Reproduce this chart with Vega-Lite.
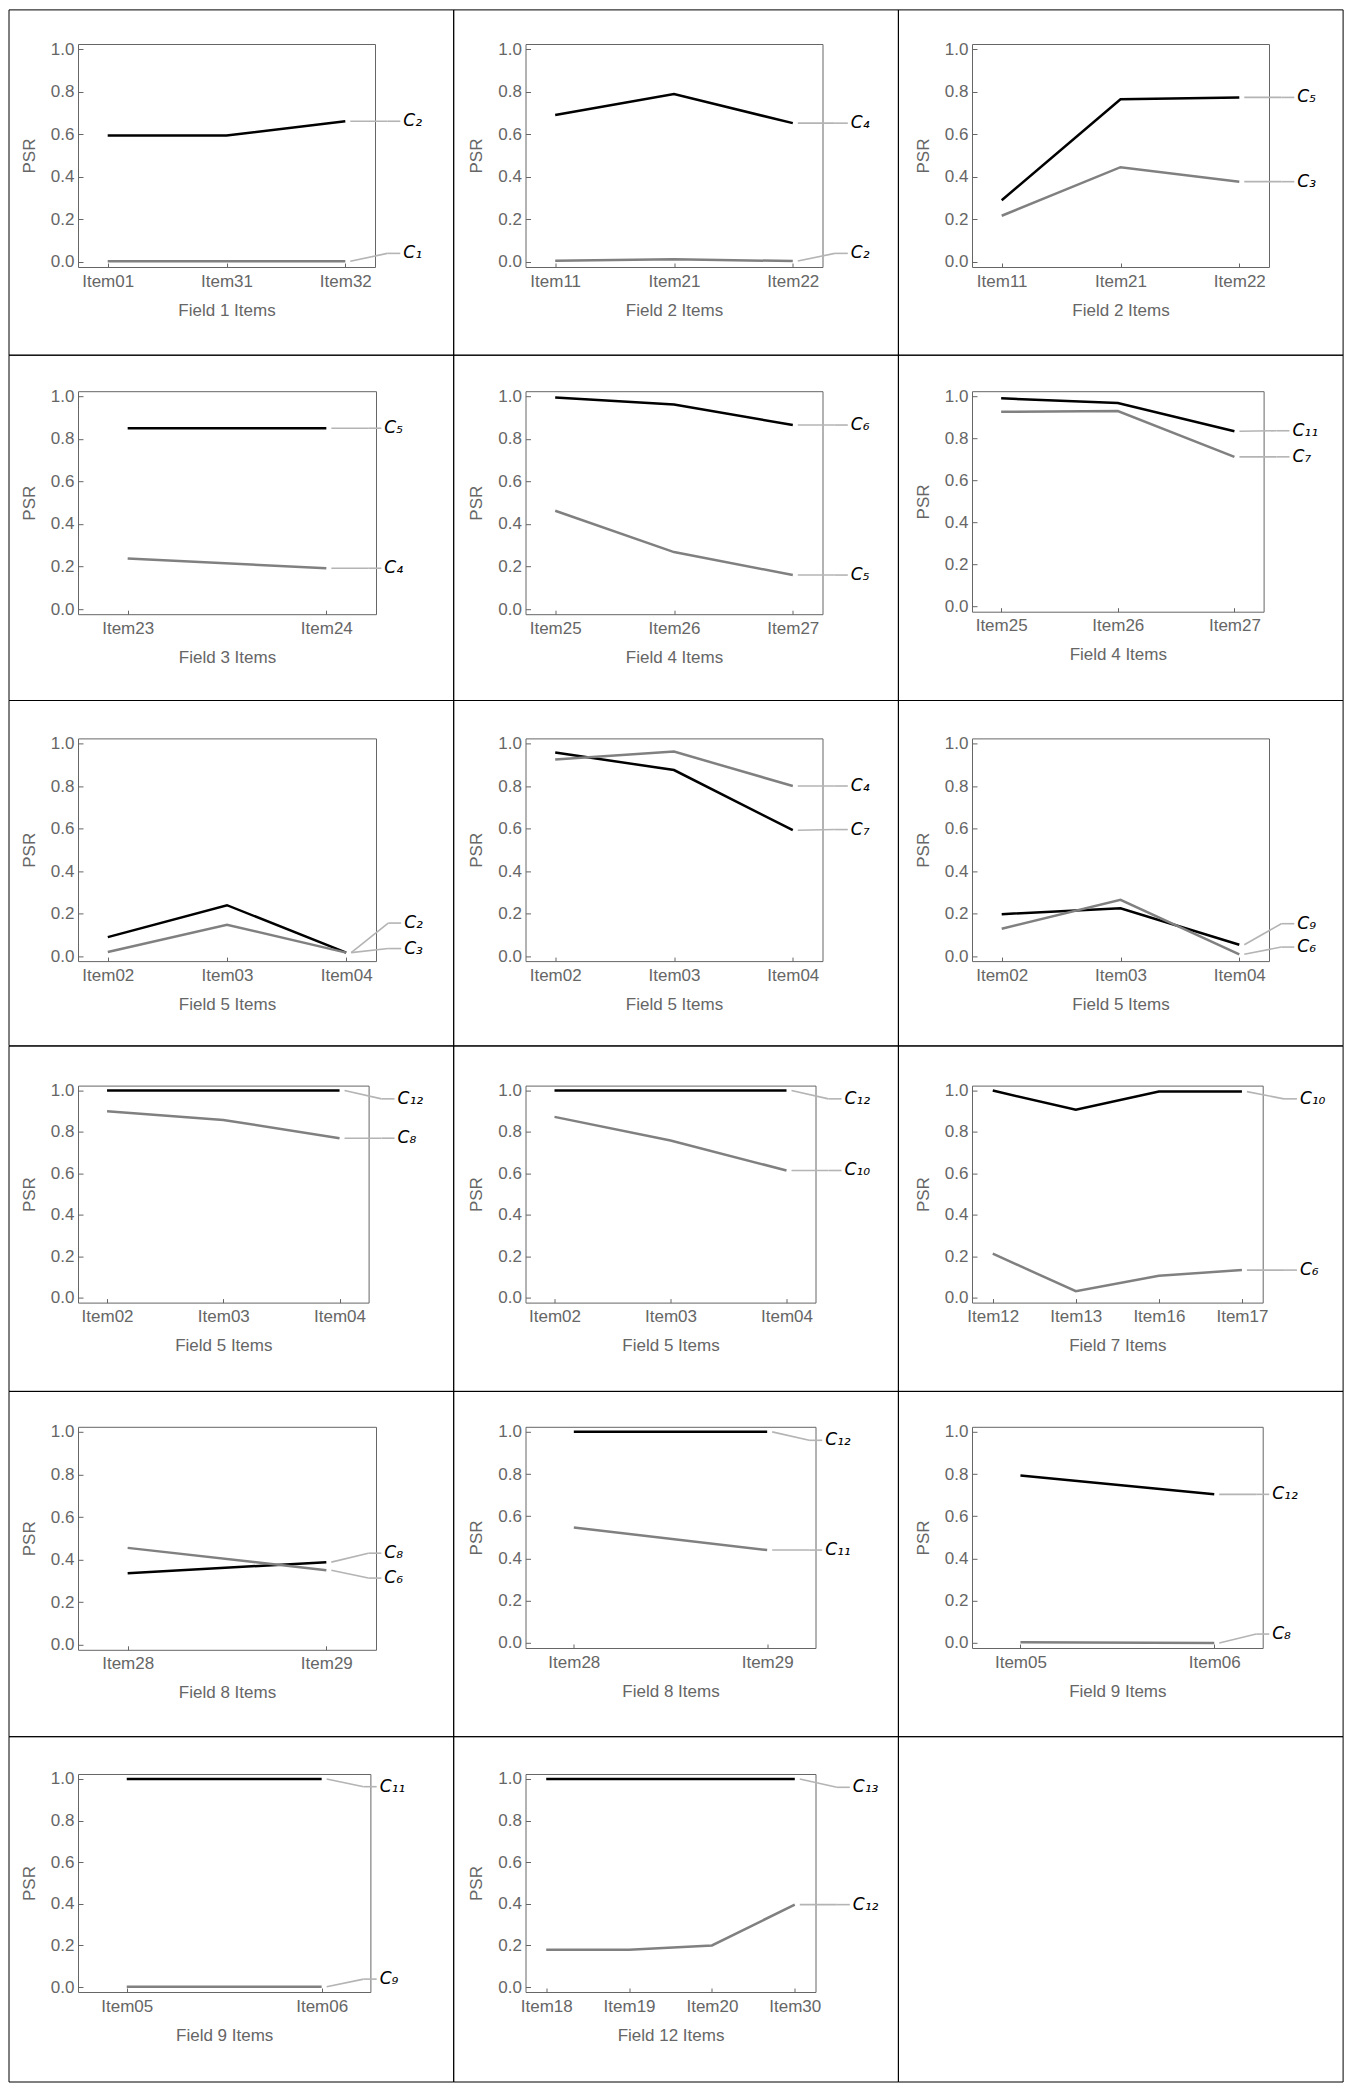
{
"$schema":"https://vega.github.io/schema/vega-lite/v6.json",
"background":"white",
"padding":{"left":8,"top":8,"right":0,"bottom":0},
"columns":3,
"bounds":"flush",
"align":"each",
"spacing":{"row":124.2,"column":149.5},
"concat":[
{"width":297,"height":223,"resolve":{"scale":{"x":"independent","y":"independent"}},
"layer":[
{"data":{"values":[{"cell":"r1c1"}]},"mark":{"type":"rect","filled":false,"color":"black","strokeWidth":1},
"encoding":{"x":{"datum":-69,"type":"quantitative","scale":{"domain":[0,297],"nice":false,"zero":false},"axis":null},"x2":{"datum":375.7},
"y":{"datum":257.1,"type":"quantitative","scale":{"domain":[0,223],"nice":false,"zero":false},"axis":null},"y2":{"datum":-88.2}}},
{"data":{"values":[
{"item":"Item01","role":"higher","psr":0.594},{"item":"Item31","role":"higher","psr":0.594},{"item":"Item32","role":"higher","psr":0.661},
{"item":"Item01","role":"lower","psr":0.003},{"item":"Item31","role":"lower","psr":0.003},{"item":"Item32","role":"lower","psr":0.003}]},
"layer":[
{"mark":{"type":"line","strokeWidth":2.5},"encoding":{
"x":{"field":"item","type":"ordinal","scale":{"type":"point","padding":0.25},"axis":{"title":"Field 1 Items"}},
"y":{"field":"psr","type":"quantitative","scale":{"domain":[-0.024,1.024],"nice":false,"zero":false},"axis":{"title":"PSR","values":[0,0.05,0.1,0.15,0.2,0.25,0.3,0.35,0.4,0.45,0.5,0.55,0.6,0.65,0.7,0.75,0.8,0.85,0.9,0.95,1],"labelExpr":"round(datum.value*100) % 20 == 0 ? format(datum.value, '.1f') : ''","tickSize":{"condition":{"test":"round(datum.value*100) % 20 == 0","value":-5},"value":-2.5}}},
"color":{"field":"role","type":"nominal","scale":{"domain":["higher","lower"],"range":["black","#808080"]},"legend":null}}},
{"data":{"values":[{"item":"Item32","label":"C₂","psr":0.661,"labelY":0.661},{"item":"Item32","label":"C₁","psr":0.003,"labelY":0.04}]},
"layer":[
{"mark":{"type":"rule","color":"#b4b4b4","strokeWidth":1.6,"xOffset":5,"x2Offset":42},"encoding":{"x":{"field":"item","type":"ordinal"},"x2":{"field":"item"},"y":{"field":"psr","type":"quantitative"},"y2":{"field":"labelY"}}},
{"mark":{"type":"rule","color":"#b4b4b4","strokeWidth":1.6,"xOffset":42,"x2Offset":55},"encoding":{"x":{"field":"item","type":"ordinal"},"x2":{"field":"item"},"y":{"field":"labelY","type":"quantitative"}}},
{"mark":{"type":"text","align":"left","baseline":"middle","xOffset":58,"font":"DejaVu Sans","fontSize":17,"fontStyle":"italic","color":"black"},"encoding":{"x":{"field":"item","type":"ordinal"},"y":{"field":"labelY","type":"quantitative"},"text":{"field":"label"}}}
]}
]}
]},
{"width":297,"height":223,"resolve":{"scale":{"x":"independent","y":"independent"}},
"layer":[
{"data":{"values":[{"cell":"r1c2"}]},"mark":{"type":"rect","filled":false,"color":"black","strokeWidth":1},
"encoding":{"x":{"datum":-71.8,"type":"quantitative","scale":{"domain":[0,297],"nice":false,"zero":false},"axis":null},"x2":{"datum":372.9},
"y":{"datum":257.1,"type":"quantitative","scale":{"domain":[0,223],"nice":false,"zero":false},"axis":null},"y2":{"datum":-88.2}}},
{"data":{"values":[
{"item":"Item11","role":"higher","psr":0.69},{"item":"Item21","role":"higher","psr":0.789},{"item":"Item22","role":"higher","psr":0.652},
{"item":"Item11","role":"lower","psr":0.005},{"item":"Item21","role":"lower","psr":0.012},{"item":"Item22","role":"lower","psr":0.004}]},
"layer":[
{"mark":{"type":"line","strokeWidth":2.5},"encoding":{
"x":{"field":"item","type":"ordinal","scale":{"type":"point","padding":0.25},"axis":{"title":"Field 2 Items"}},
"y":{"field":"psr","type":"quantitative","scale":{"domain":[-0.024,1.024],"nice":false,"zero":false},"axis":{"title":"PSR","values":[0,0.05,0.1,0.15,0.2,0.25,0.3,0.35,0.4,0.45,0.5,0.55,0.6,0.65,0.7,0.75,0.8,0.85,0.9,0.95,1],"labelExpr":"round(datum.value*100) % 20 == 0 ? format(datum.value, '.1f') : ''","tickSize":{"condition":{"test":"round(datum.value*100) % 20 == 0","value":-5},"value":-2.5}}},
"color":{"field":"role","type":"nominal","scale":{"domain":["higher","lower"],"range":["black","#808080"]},"legend":null}}},
{"data":{"values":[{"item":"Item22","label":"C₄","psr":0.652,"labelY":0.652},{"item":"Item22","label":"C₂","psr":0.004,"labelY":0.04}]},
"layer":[
{"mark":{"type":"rule","color":"#b4b4b4","strokeWidth":1.6,"xOffset":5,"x2Offset":42},"encoding":{"x":{"field":"item","type":"ordinal"},"x2":{"field":"item"},"y":{"field":"psr","type":"quantitative"},"y2":{"field":"labelY"}}},
{"mark":{"type":"rule","color":"#b4b4b4","strokeWidth":1.6,"xOffset":42,"x2Offset":55},"encoding":{"x":{"field":"item","type":"ordinal"},"x2":{"field":"item"},"y":{"field":"labelY","type":"quantitative"}}},
{"mark":{"type":"text","align":"left","baseline":"middle","xOffset":58,"font":"DejaVu Sans","fontSize":17,"fontStyle":"italic","color":"black"},"encoding":{"x":{"field":"item","type":"ordinal"},"y":{"field":"labelY","type":"quantitative"},"text":{"field":"label"}}}
]}
]}
]},
{"width":297,"height":223,"resolve":{"scale":{"x":"independent","y":"independent"}},
"layer":[
{"data":{"values":[{"cell":"r1c3"}]},"mark":{"type":"rect","filled":false,"color":"black","strokeWidth":1},
"encoding":{"x":{"datum":-73.6,"type":"quantitative","scale":{"domain":[0,297],"nice":false,"zero":false},"axis":null},"x2":{"datum":371.1},
"y":{"datum":257.1,"type":"quantitative","scale":{"domain":[0,223],"nice":false,"zero":false},"axis":null},"y2":{"datum":-88.2}}},
{"data":{"values":[
{"item":"Item11","role":"higher","psr":0.29},{"item":"Item21","role":"higher","psr":0.764},{"item":"Item22","role":"higher","psr":0.773},
{"item":"Item11","role":"lower","psr":0.217},{"item":"Item21","role":"lower","psr":0.445},{"item":"Item22","role":"lower","psr":0.377}]},
"layer":[
{"mark":{"type":"line","strokeWidth":2.5},"encoding":{
"x":{"field":"item","type":"ordinal","scale":{"type":"point","padding":0.25},"axis":{"title":"Field 2 Items"}},
"y":{"field":"psr","type":"quantitative","scale":{"domain":[-0.024,1.024],"nice":false,"zero":false},"axis":{"title":"PSR","values":[0,0.05,0.1,0.15,0.2,0.25,0.3,0.35,0.4,0.45,0.5,0.55,0.6,0.65,0.7,0.75,0.8,0.85,0.9,0.95,1],"labelExpr":"round(datum.value*100) % 20 == 0 ? format(datum.value, '.1f') : ''","tickSize":{"condition":{"test":"round(datum.value*100) % 20 == 0","value":-5},"value":-2.5}}},
"color":{"field":"role","type":"nominal","scale":{"domain":["higher","lower"],"range":["black","#808080"]},"legend":null}}},
{"data":{"values":[{"item":"Item22","label":"C₅","psr":0.773,"labelY":0.773},{"item":"Item22","label":"C₃","psr":0.377,"labelY":0.377}]},
"layer":[
{"mark":{"type":"rule","color":"#b4b4b4","strokeWidth":1.6,"xOffset":5,"x2Offset":42},"encoding":{"x":{"field":"item","type":"ordinal"},"x2":{"field":"item"},"y":{"field":"psr","type":"quantitative"},"y2":{"field":"labelY"}}},
{"mark":{"type":"rule","color":"#b4b4b4","strokeWidth":1.6,"xOffset":42,"x2Offset":55},"encoding":{"x":{"field":"item","type":"ordinal"},"x2":{"field":"item"},"y":{"field":"labelY","type":"quantitative"}}},
{"mark":{"type":"text","align":"left","baseline":"middle","xOffset":58,"font":"DejaVu Sans","fontSize":17,"fontStyle":"italic","color":"black"},"encoding":{"x":{"field":"item","type":"ordinal"},"y":{"field":"labelY","type":"quantitative"},"text":{"field":"label"}}}
]}
]}
]},
{"width":298,"height":223,"resolve":{"scale":{"x":"independent","y":"independent"}},
"layer":[
{"data":{"values":[{"cell":"r2c1"}]},"mark":{"type":"rect","filled":false,"color":"black","strokeWidth":1},
"encoding":{"x":{"datum":-69,"type":"quantitative","scale":{"domain":[0,298],"nice":false,"zero":false},"axis":null},"x2":{"datum":375.7},
"y":{"datum":259,"type":"quantitative","scale":{"domain":[0,223],"nice":false,"zero":false},"axis":null},"y2":{"datum":-86.3}}},
{"data":{"values":[
{"item":"Item23","role":"higher","psr":0.85},{"item":"Item24","role":"higher","psr":0.85},
{"item":"Item23","role":"lower","psr":0.238},{"item":"Item24","role":"lower","psr":0.192}]},
"layer":[
{"mark":{"type":"line","strokeWidth":2.5},"encoding":{
"x":{"field":"item","type":"ordinal","scale":{"type":"point","padding":0.25},"axis":{"title":"Field 3 Items"}},
"y":{"field":"psr","type":"quantitative","scale":{"domain":[-0.024,1.024],"nice":false,"zero":false},"axis":{"title":"PSR","values":[0,0.05,0.1,0.15,0.2,0.25,0.3,0.35,0.4,0.45,0.5,0.55,0.6,0.65,0.7,0.75,0.8,0.85,0.9,0.95,1],"labelExpr":"round(datum.value*100) % 20 == 0 ? format(datum.value, '.1f') : ''","tickSize":{"condition":{"test":"round(datum.value*100) % 20 == 0","value":-5},"value":-2.5}}},
"color":{"field":"role","type":"nominal","scale":{"domain":["higher","lower"],"range":["black","#808080"]},"legend":null}}},
{"data":{"values":[{"item":"Item24","label":"C₅","psr":0.85,"labelY":0.85},{"item":"Item24","label":"C₄","psr":0.192,"labelY":0.192}]},
"layer":[
{"mark":{"type":"rule","color":"#b4b4b4","strokeWidth":1.6,"xOffset":5,"x2Offset":42},"encoding":{"x":{"field":"item","type":"ordinal"},"x2":{"field":"item"},"y":{"field":"psr","type":"quantitative"},"y2":{"field":"labelY"}}},
{"mark":{"type":"rule","color":"#b4b4b4","strokeWidth":1.6,"xOffset":42,"x2Offset":55},"encoding":{"x":{"field":"item","type":"ordinal"},"x2":{"field":"item"},"y":{"field":"labelY","type":"quantitative"}}},
{"mark":{"type":"text","align":"left","baseline":"middle","xOffset":58,"font":"DejaVu Sans","fontSize":17,"fontStyle":"italic","color":"black"},"encoding":{"x":{"field":"item","type":"ordinal"},"y":{"field":"labelY","type":"quantitative"},"text":{"field":"label"}}}
]}
]}
]},
{"width":297,"height":223,"resolve":{"scale":{"x":"independent","y":"independent"}},
"layer":[
{"data":{"values":[{"cell":"r2c2"}]},"mark":{"type":"rect","filled":false,"color":"black","strokeWidth":1},
"encoding":{"x":{"datum":-71.8,"type":"quantitative","scale":{"domain":[0,297],"nice":false,"zero":false},"axis":null},"x2":{"datum":372.9},
"y":{"datum":259,"type":"quantitative","scale":{"domain":[0,223],"nice":false,"zero":false},"axis":null},"y2":{"datum":-86.3}}},
{"data":{"values":[
{"item":"Item25","role":"higher","psr":0.994},{"item":"Item26","role":"higher","psr":0.961},{"item":"Item27","role":"higher","psr":0.865},
{"item":"Item25","role":"lower","psr":0.462},{"item":"Item26","role":"lower","psr":0.268},{"item":"Item27","role":"lower","psr":0.16}]},
"layer":[
{"mark":{"type":"line","strokeWidth":2.5},"encoding":{
"x":{"field":"item","type":"ordinal","scale":{"type":"point","padding":0.25},"axis":{"title":"Field 4 Items"}},
"y":{"field":"psr","type":"quantitative","scale":{"domain":[-0.024,1.024],"nice":false,"zero":false},"axis":{"title":"PSR","values":[0,0.05,0.1,0.15,0.2,0.25,0.3,0.35,0.4,0.45,0.5,0.55,0.6,0.65,0.7,0.75,0.8,0.85,0.9,0.95,1],"labelExpr":"round(datum.value*100) % 20 == 0 ? format(datum.value, '.1f') : ''","tickSize":{"condition":{"test":"round(datum.value*100) % 20 == 0","value":-5},"value":-2.5}}},
"color":{"field":"role","type":"nominal","scale":{"domain":["higher","lower"],"range":["black","#808080"]},"legend":null}}},
{"data":{"values":[{"item":"Item27","label":"C₆","psr":0.865,"labelY":0.865},{"item":"Item27","label":"C₅","psr":0.16,"labelY":0.16}]},
"layer":[
{"mark":{"type":"rule","color":"#b4b4b4","strokeWidth":1.6,"xOffset":5,"x2Offset":42},"encoding":{"x":{"field":"item","type":"ordinal"},"x2":{"field":"item"},"y":{"field":"psr","type":"quantitative"},"y2":{"field":"labelY"}}},
{"mark":{"type":"rule","color":"#b4b4b4","strokeWidth":1.6,"xOffset":42,"x2Offset":55},"encoding":{"x":{"field":"item","type":"ordinal"},"x2":{"field":"item"},"y":{"field":"labelY","type":"quantitative"}}},
{"mark":{"type":"text","align":"left","baseline":"middle","xOffset":58,"font":"DejaVu Sans","fontSize":17,"fontStyle":"italic","color":"black"},"encoding":{"x":{"field":"item","type":"ordinal"},"y":{"field":"labelY","type":"quantitative"},"text":{"field":"label"}}}
]}
]}
]},
{"width":291.6,"height":220.5,"resolve":{"scale":{"x":"independent","y":"independent"}},
"layer":[
{"data":{"values":[{"cell":"r2c3"}]},"mark":{"type":"rect","filled":false,"color":"black","strokeWidth":1},
"encoding":{"x":{"datum":-73.6,"type":"quantitative","scale":{"domain":[0,291.6],"nice":false,"zero":false},"axis":null},"x2":{"datum":371.1},
"y":{"datum":256.5,"type":"quantitative","scale":{"domain":[0,220.5],"nice":false,"zero":false},"axis":null},"y2":{"datum":-88.8}}},
{"data":{"values":[
{"item":"Item25","role":"higher","psr":0.99},{"item":"Item26","role":"higher","psr":0.968},{"item":"Item27","role":"higher","psr":0.834},
{"item":"Item25","role":"lower","psr":0.926},{"item":"Item26","role":"lower","psr":0.93},{"item":"Item27","role":"lower","psr":0.712}]},
"layer":[
{"mark":{"type":"line","strokeWidth":2.5},"encoding":{
"x":{"field":"item","type":"ordinal","scale":{"type":"point","padding":0.25},"axis":{"title":"Field 4 Items"}},
"y":{"field":"psr","type":"quantitative","scale":{"domain":[-0.024,1.024],"nice":false,"zero":false},"axis":{"title":"PSR","values":[0,0.05,0.1,0.15,0.2,0.25,0.3,0.35,0.4,0.45,0.5,0.55,0.6,0.65,0.7,0.75,0.8,0.85,0.9,0.95,1],"labelExpr":"round(datum.value*100) % 20 == 0 ? format(datum.value, '.1f') : ''","tickSize":{"condition":{"test":"round(datum.value*100) % 20 == 0","value":-5},"value":-2.5}}},
"color":{"field":"role","type":"nominal","scale":{"domain":["higher","lower"],"range":["black","#808080"]},"legend":null}}},
{"data":{"values":[{"item":"Item27","label":"C₁₁","psr":0.834,"labelY":0.836},{"item":"Item27","label":"C₇","psr":0.712,"labelY":0.712}]},
"layer":[
{"mark":{"type":"rule","color":"#b4b4b4","strokeWidth":1.6,"xOffset":5,"x2Offset":42},"encoding":{"x":{"field":"item","type":"ordinal"},"x2":{"field":"item"},"y":{"field":"psr","type":"quantitative"},"y2":{"field":"labelY"}}},
{"mark":{"type":"rule","color":"#b4b4b4","strokeWidth":1.6,"xOffset":42,"x2Offset":55},"encoding":{"x":{"field":"item","type":"ordinal"},"x2":{"field":"item"},"y":{"field":"labelY","type":"quantitative"}}},
{"mark":{"type":"text","align":"left","baseline":"middle","xOffset":58,"font":"DejaVu Sans","fontSize":17,"fontStyle":"italic","color":"black"},"encoding":{"x":{"field":"item","type":"ordinal"},"y":{"field":"labelY","type":"quantitative"},"text":{"field":"label"}}}
]}
]}
]},
{"width":298,"height":222.7,"resolve":{"scale":{"x":"independent","y":"independent"}},
"layer":[
{"data":{"values":[{"cell":"r3c1"}]},"mark":{"type":"rect","filled":false,"color":"black","strokeWidth":1},
"encoding":{"x":{"datum":-69,"type":"quantitative","scale":{"domain":[0,298],"nice":false,"zero":false},"axis":null},"x2":{"datum":375.7},
"y":{"datum":260.6,"type":"quantitative","scale":{"domain":[0,222.7],"nice":false,"zero":false},"axis":null},"y2":{"datum":-84.7}}},
{"data":{"values":[
{"item":"Item02","role":"higher","psr":0.089},{"item":"Item03","role":"higher","psr":0.239},{"item":"Item04","role":"higher","psr":0.016},
{"item":"Item02","role":"lower","psr":0.019},{"item":"Item03","role":"lower","psr":0.147},{"item":"Item04","role":"lower","psr":0.016}]},
"layer":[
{"mark":{"type":"line","strokeWidth":2.5},"encoding":{
"x":{"field":"item","type":"ordinal","scale":{"type":"point","padding":0.25},"axis":{"title":"Field 5 Items"}},
"y":{"field":"psr","type":"quantitative","scale":{"domain":[-0.024,1.024],"nice":false,"zero":false},"axis":{"title":"PSR","values":[0,0.05,0.1,0.15,0.2,0.25,0.3,0.35,0.4,0.45,0.5,0.55,0.6,0.65,0.7,0.75,0.8,0.85,0.9,0.95,1],"labelExpr":"round(datum.value*100) % 20 == 0 ? format(datum.value, '.1f') : ''","tickSize":{"condition":{"test":"round(datum.value*100) % 20 == 0","value":-5},"value":-2.5}}},
"color":{"field":"role","type":"nominal","scale":{"domain":["higher","lower"],"range":["black","#808080"]},"legend":null}}},
{"data":{"values":[{"item":"Item04","label":"C₂","psr":0.016,"labelY":0.155},{"item":"Item04","label":"C₃","psr":0.016,"labelY":0.035}]},
"layer":[
{"mark":{"type":"rule","color":"#b4b4b4","strokeWidth":1.6,"xOffset":5,"x2Offset":42},"encoding":{"x":{"field":"item","type":"ordinal"},"x2":{"field":"item"},"y":{"field":"psr","type":"quantitative"},"y2":{"field":"labelY"}}},
{"mark":{"type":"rule","color":"#b4b4b4","strokeWidth":1.6,"xOffset":42,"x2Offset":55},"encoding":{"x":{"field":"item","type":"ordinal"},"x2":{"field":"item"},"y":{"field":"labelY","type":"quantitative"}}},
{"mark":{"type":"text","align":"left","baseline":"middle","xOffset":58,"font":"DejaVu Sans","fontSize":17,"fontStyle":"italic","color":"black"},"encoding":{"x":{"field":"item","type":"ordinal"},"y":{"field":"labelY","type":"quantitative"},"text":{"field":"label"}}}
]}
]}
]},
{"width":297,"height":222.7,"resolve":{"scale":{"x":"independent","y":"independent"}},
"layer":[
{"data":{"values":[{"cell":"r3c2"}]},"mark":{"type":"rect","filled":false,"color":"black","strokeWidth":1},
"encoding":{"x":{"datum":-71.8,"type":"quantitative","scale":{"domain":[0,297],"nice":false,"zero":false},"axis":null},"x2":{"datum":372.9},
"y":{"datum":260.6,"type":"quantitative","scale":{"domain":[0,222.7],"nice":false,"zero":false},"axis":null},"y2":{"datum":-84.7}}},
{"data":{"values":[
{"item":"Item02","role":"higher","psr":0.958},{"item":"Item03","role":"higher","psr":0.875},{"item":"Item04","role":"higher","psr":0.592},
{"item":"Item02","role":"lower","psr":0.925},{"item":"Item03","role":"lower","psr":0.962},{"item":"Item04","role":"lower","psr":0.8}]},
"layer":[
{"mark":{"type":"line","strokeWidth":2.5},"encoding":{
"x":{"field":"item","type":"ordinal","scale":{"type":"point","padding":0.25},"axis":{"title":"Field 5 Items"}},
"y":{"field":"psr","type":"quantitative","scale":{"domain":[-0.024,1.024],"nice":false,"zero":false},"axis":{"title":"PSR","values":[0,0.05,0.1,0.15,0.2,0.25,0.3,0.35,0.4,0.45,0.5,0.55,0.6,0.65,0.7,0.75,0.8,0.85,0.9,0.95,1],"labelExpr":"round(datum.value*100) % 20 == 0 ? format(datum.value, '.1f') : ''","tickSize":{"condition":{"test":"round(datum.value*100) % 20 == 0","value":-5},"value":-2.5}}},
"color":{"field":"role","type":"nominal","scale":{"domain":["higher","lower"],"range":["black","#808080"]},"legend":null}}},
{"data":{"values":[{"item":"Item04","label":"C₄","psr":0.8,"labelY":0.8},{"item":"Item04","label":"C₇","psr":0.592,"labelY":0.595}]},
"layer":[
{"mark":{"type":"rule","color":"#b4b4b4","strokeWidth":1.6,"xOffset":5,"x2Offset":42},"encoding":{"x":{"field":"item","type":"ordinal"},"x2":{"field":"item"},"y":{"field":"psr","type":"quantitative"},"y2":{"field":"labelY"}}},
{"mark":{"type":"rule","color":"#b4b4b4","strokeWidth":1.6,"xOffset":42,"x2Offset":55},"encoding":{"x":{"field":"item","type":"ordinal"},"x2":{"field":"item"},"y":{"field":"labelY","type":"quantitative"}}},
{"mark":{"type":"text","align":"left","baseline":"middle","xOffset":58,"font":"DejaVu Sans","fontSize":17,"fontStyle":"italic","color":"black"},"encoding":{"x":{"field":"item","type":"ordinal"},"y":{"field":"labelY","type":"quantitative"},"text":{"field":"label"}}}
]}
]}
]},
{"width":297,"height":222.7,"resolve":{"scale":{"x":"independent","y":"independent"}},
"layer":[
{"data":{"values":[{"cell":"r3c3"}]},"mark":{"type":"rect","filled":false,"color":"black","strokeWidth":1},
"encoding":{"x":{"datum":-73.6,"type":"quantitative","scale":{"domain":[0,297],"nice":false,"zero":false},"axis":null},"x2":{"datum":371.1},
"y":{"datum":260.6,"type":"quantitative","scale":{"domain":[0,222.7],"nice":false,"zero":false},"axis":null},"y2":{"datum":-84.7}}},
{"data":{"values":[
{"item":"Item02","role":"higher","psr":0.197},{"item":"Item03","role":"higher","psr":0.225},{"item":"Item04","role":"higher","psr":0.053},
{"item":"Item02","role":"lower","psr":0.128},{"item":"Item03","role":"lower","psr":0.264},{"item":"Item04","role":"lower","psr":0.008}]},
"layer":[
{"mark":{"type":"line","strokeWidth":2.5},"encoding":{
"x":{"field":"item","type":"ordinal","scale":{"type":"point","padding":0.25},"axis":{"title":"Field 5 Items"}},
"y":{"field":"psr","type":"quantitative","scale":{"domain":[-0.024,1.024],"nice":false,"zero":false},"axis":{"title":"PSR","values":[0,0.05,0.1,0.15,0.2,0.25,0.3,0.35,0.4,0.45,0.5,0.55,0.6,0.65,0.7,0.75,0.8,0.85,0.9,0.95,1],"labelExpr":"round(datum.value*100) % 20 == 0 ? format(datum.value, '.1f') : ''","tickSize":{"condition":{"test":"round(datum.value*100) % 20 == 0","value":-5},"value":-2.5}}},
"color":{"field":"role","type":"nominal","scale":{"domain":["higher","lower"],"range":["black","#808080"]},"legend":null}}},
{"data":{"values":[{"item":"Item04","label":"C₉","psr":0.053,"labelY":0.152},{"item":"Item04","label":"C₆","psr":0.008,"labelY":0.042}]},
"layer":[
{"mark":{"type":"rule","color":"#b4b4b4","strokeWidth":1.6,"xOffset":5,"x2Offset":42},"encoding":{"x":{"field":"item","type":"ordinal"},"x2":{"field":"item"},"y":{"field":"psr","type":"quantitative"},"y2":{"field":"labelY"}}},
{"mark":{"type":"rule","color":"#b4b4b4","strokeWidth":1.6,"xOffset":42,"x2Offset":55},"encoding":{"x":{"field":"item","type":"ordinal"},"x2":{"field":"item"},"y":{"field":"labelY","type":"quantitative"}}},
{"mark":{"type":"text","align":"left","baseline":"middle","xOffset":58,"font":"DejaVu Sans","fontSize":17,"fontStyle":"italic","color":"black"},"encoding":{"x":{"field":"item","type":"ordinal"},"y":{"field":"labelY","type":"quantitative"},"text":{"field":"label"}}}
]}
]}
]},
{"width":290.6,"height":217,"resolve":{"scale":{"x":"independent","y":"independent"}},
"layer":[
{"data":{"values":[{"cell":"r4c1"}]},"mark":{"type":"rect","filled":false,"color":"black","strokeWidth":1},
"encoding":{"x":{"datum":-69,"type":"quantitative","scale":{"domain":[0,290.6],"nice":false,"zero":false},"axis":null},"x2":{"datum":375.7},
"y":{"datum":256.5,"type":"quantitative","scale":{"domain":[0,217],"nice":false,"zero":false},"axis":null},"y2":{"datum":-88.8}}},
{"data":{"values":[
{"item":"Item02","role":"higher","psr":1.0},{"item":"Item03","role":"higher","psr":1.0},{"item":"Item04","role":"higher","psr":1.0},
{"item":"Item02","role":"lower","psr":0.9},{"item":"Item03","role":"lower","psr":0.858},{"item":"Item04","role":"lower","psr":0.77}]},
"layer":[
{"mark":{"type":"line","strokeWidth":2.5},"encoding":{
"x":{"field":"item","type":"ordinal","scale":{"type":"point","padding":0.25},"axis":{"title":"Field 5 Items"}},
"y":{"field":"psr","type":"quantitative","scale":{"domain":[-0.024,1.024],"nice":false,"zero":false},"axis":{"title":"PSR","values":[0,0.05,0.1,0.15,0.2,0.25,0.3,0.35,0.4,0.45,0.5,0.55,0.6,0.65,0.7,0.75,0.8,0.85,0.9,0.95,1],"labelExpr":"round(datum.value*100) % 20 == 0 ? format(datum.value, '.1f') : ''","tickSize":{"condition":{"test":"round(datum.value*100) % 20 == 0","value":-5},"value":-2.5}}},
"color":{"field":"role","type":"nominal","scale":{"domain":["higher","lower"],"range":["black","#808080"]},"legend":null}}},
{"data":{"values":[{"item":"Item04","label":"C₁₂","psr":1.0,"labelY":0.96},{"item":"Item04","label":"C₈","psr":0.77,"labelY":0.77}]},
"layer":[
{"mark":{"type":"rule","color":"#b4b4b4","strokeWidth":1.6,"xOffset":5,"x2Offset":42},"encoding":{"x":{"field":"item","type":"ordinal"},"x2":{"field":"item"},"y":{"field":"psr","type":"quantitative"},"y2":{"field":"labelY"}}},
{"mark":{"type":"rule","color":"#b4b4b4","strokeWidth":1.6,"xOffset":42,"x2Offset":55},"encoding":{"x":{"field":"item","type":"ordinal"},"x2":{"field":"item"},"y":{"field":"labelY","type":"quantitative"}}},
{"mark":{"type":"text","align":"left","baseline":"middle","xOffset":58,"font":"DejaVu Sans","fontSize":17,"fontStyle":"italic","color":"black"},"encoding":{"x":{"field":"item","type":"ordinal"},"y":{"field":"labelY","type":"quantitative"},"text":{"field":"label"}}}
]}
]}
]},
{"width":290,"height":217,"resolve":{"scale":{"x":"independent","y":"independent"}},
"layer":[
{"data":{"values":[{"cell":"r4c2"}]},"mark":{"type":"rect","filled":false,"color":"black","strokeWidth":1},
"encoding":{"x":{"datum":-71.8,"type":"quantitative","scale":{"domain":[0,290],"nice":false,"zero":false},"axis":null},"x2":{"datum":372.9},
"y":{"datum":256.5,"type":"quantitative","scale":{"domain":[0,217],"nice":false,"zero":false},"axis":null},"y2":{"datum":-88.8}}},
{"data":{"values":[
{"item":"Item02","role":"higher","psr":1.0},{"item":"Item03","role":"higher","psr":1.0},{"item":"Item04","role":"higher","psr":1.0},
{"item":"Item02","role":"lower","psr":0.873},{"item":"Item03","role":"lower","psr":0.759},{"item":"Item04","role":"lower","psr":0.614}]},
"layer":[
{"mark":{"type":"line","strokeWidth":2.5},"encoding":{
"x":{"field":"item","type":"ordinal","scale":{"type":"point","padding":0.25},"axis":{"title":"Field 5 Items"}},
"y":{"field":"psr","type":"quantitative","scale":{"domain":[-0.024,1.024],"nice":false,"zero":false},"axis":{"title":"PSR","values":[0,0.05,0.1,0.15,0.2,0.25,0.3,0.35,0.4,0.45,0.5,0.55,0.6,0.65,0.7,0.75,0.8,0.85,0.9,0.95,1],"labelExpr":"round(datum.value*100) % 20 == 0 ? format(datum.value, '.1f') : ''","tickSize":{"condition":{"test":"round(datum.value*100) % 20 == 0","value":-5},"value":-2.5}}},
"color":{"field":"role","type":"nominal","scale":{"domain":["higher","lower"],"range":["black","#808080"]},"legend":null}}},
{"data":{"values":[{"item":"Item04","label":"C₁₂","psr":1.0,"labelY":0.96},{"item":"Item04","label":"C₁₀","psr":0.614,"labelY":0.614}]},
"layer":[
{"mark":{"type":"rule","color":"#b4b4b4","strokeWidth":1.6,"xOffset":5,"x2Offset":42},"encoding":{"x":{"field":"item","type":"ordinal"},"x2":{"field":"item"},"y":{"field":"psr","type":"quantitative"},"y2":{"field":"labelY"}}},
{"mark":{"type":"rule","color":"#b4b4b4","strokeWidth":1.6,"xOffset":42,"x2Offset":55},"encoding":{"x":{"field":"item","type":"ordinal"},"x2":{"field":"item"},"y":{"field":"labelY","type":"quantitative"}}},
{"mark":{"type":"text","align":"left","baseline":"middle","xOffset":58,"font":"DejaVu Sans","fontSize":17,"fontStyle":"italic","color":"black"},"encoding":{"x":{"field":"item","type":"ordinal"},"y":{"field":"labelY","type":"quantitative"},"text":{"field":"label"}}}
]}
]}
]},
{"width":290.7,"height":217,"resolve":{"scale":{"x":"independent","y":"independent"}},
"layer":[
{"data":{"values":[{"cell":"r4c3"}]},"mark":{"type":"rect","filled":false,"color":"black","strokeWidth":1},
"encoding":{"x":{"datum":-73.6,"type":"quantitative","scale":{"domain":[0,290.7],"nice":false,"zero":false},"axis":null},"x2":{"datum":371.1},
"y":{"datum":256.5,"type":"quantitative","scale":{"domain":[0,217],"nice":false,"zero":false},"axis":null},"y2":{"datum":-88.8}}},
{"data":{"values":[
{"item":"Item12","role":"higher","psr":1.0},{"item":"Item13","role":"higher","psr":0.907},{"item":"Item16","role":"higher","psr":0.995},{"item":"Item17","role":"higher","psr":0.995},
{"item":"Item12","role":"lower","psr":0.212},{"item":"Item13","role":"lower","psr":0.031},{"item":"Item16","role":"lower","psr":0.106},{"item":"Item17","role":"lower","psr":0.133}]},
"layer":[
{"mark":{"type":"line","strokeWidth":2.5},"encoding":{
"x":{"field":"item","type":"ordinal","scale":{"type":"point","padding":0.25},"axis":{"title":"Field 7 Items"}},
"y":{"field":"psr","type":"quantitative","scale":{"domain":[-0.024,1.024],"nice":false,"zero":false},"axis":{"title":"PSR","values":[0,0.05,0.1,0.15,0.2,0.25,0.3,0.35,0.4,0.45,0.5,0.55,0.6,0.65,0.7,0.75,0.8,0.85,0.9,0.95,1],"labelExpr":"round(datum.value*100) % 20 == 0 ? format(datum.value, '.1f') : ''","tickSize":{"condition":{"test":"round(datum.value*100) % 20 == 0","value":-5},"value":-2.5}}},
"color":{"field":"role","type":"nominal","scale":{"domain":["higher","lower"],"range":["black","#808080"]},"legend":null}}},
{"data":{"values":[{"item":"Item17","label":"C₁₀","psr":0.995,"labelY":0.96},{"item":"Item17","label":"C₆","psr":0.133,"labelY":0.133}]},
"layer":[
{"mark":{"type":"rule","color":"#b4b4b4","strokeWidth":1.6,"xOffset":5,"x2Offset":42},"encoding":{"x":{"field":"item","type":"ordinal"},"x2":{"field":"item"},"y":{"field":"psr","type":"quantitative"},"y2":{"field":"labelY"}}},
{"mark":{"type":"rule","color":"#b4b4b4","strokeWidth":1.6,"xOffset":42,"x2Offset":55},"encoding":{"x":{"field":"item","type":"ordinal"},"x2":{"field":"item"},"y":{"field":"labelY","type":"quantitative"}}},
{"mark":{"type":"text","align":"left","baseline":"middle","xOffset":58,"font":"DejaVu Sans","fontSize":17,"fontStyle":"italic","color":"black"},"encoding":{"x":{"field":"item","type":"ordinal"},"y":{"field":"labelY","type":"quantitative"},"text":{"field":"label"}}}
]}
]}
]},
{"width":298,"height":223,"resolve":{"scale":{"x":"independent","y":"independent"}},
"layer":[
{"data":{"values":[{"cell":"r5c1"}]},"mark":{"type":"rect","filled":false,"color":"black","strokeWidth":1},
"encoding":{"x":{"datum":-69,"type":"quantitative","scale":{"domain":[0,298],"nice":false,"zero":false},"axis":null},"x2":{"datum":375.7},
"y":{"datum":258.4,"type":"quantitative","scale":{"domain":[0,223],"nice":false,"zero":false},"axis":null},"y2":{"datum":-86.9}}},
{"data":{"values":[
{"item":"Item28","role":"higher","psr":0.336},{"item":"Item29","role":"higher","psr":0.388},
{"item":"Item28","role":"lower","psr":0.455},{"item":"Item29","role":"lower","psr":0.35}]},
"layer":[
{"mark":{"type":"line","strokeWidth":2.5},"encoding":{
"x":{"field":"item","type":"ordinal","scale":{"type":"point","padding":0.25},"axis":{"title":"Field 8 Items"}},
"y":{"field":"psr","type":"quantitative","scale":{"domain":[-0.024,1.024],"nice":false,"zero":false},"axis":{"title":"PSR","values":[0,0.05,0.1,0.15,0.2,0.25,0.3,0.35,0.4,0.45,0.5,0.55,0.6,0.65,0.7,0.75,0.8,0.85,0.9,0.95,1],"labelExpr":"round(datum.value*100) % 20 == 0 ? format(datum.value, '.1f') : ''","tickSize":{"condition":{"test":"round(datum.value*100) % 20 == 0","value":-5},"value":-2.5}}},
"color":{"field":"role","type":"nominal","scale":{"domain":["higher","lower"],"range":["black","#808080"]},"legend":null}}},
{"data":{"values":[{"item":"Item29","label":"C₈","psr":0.388,"labelY":0.43},{"item":"Item29","label":"C₆","psr":0.35,"labelY":0.313}]},
"layer":[
{"mark":{"type":"rule","color":"#b4b4b4","strokeWidth":1.6,"xOffset":5,"x2Offset":42},"encoding":{"x":{"field":"item","type":"ordinal"},"x2":{"field":"item"},"y":{"field":"psr","type":"quantitative"},"y2":{"field":"labelY"}}},
{"mark":{"type":"rule","color":"#b4b4b4","strokeWidth":1.6,"xOffset":42,"x2Offset":55},"encoding":{"x":{"field":"item","type":"ordinal"},"x2":{"field":"item"},"y":{"field":"labelY","type":"quantitative"}}},
{"mark":{"type":"text","align":"left","baseline":"middle","xOffset":58,"font":"DejaVu Sans","fontSize":17,"fontStyle":"italic","color":"black"},"encoding":{"x":{"field":"item","type":"ordinal"},"y":{"field":"labelY","type":"quantitative"},"text":{"field":"label"}}}
]}
]}
]},
{"width":290,"height":221.2,"resolve":{"scale":{"x":"independent","y":"independent"}},
"layer":[
{"data":{"values":[{"cell":"r5c2"}]},"mark":{"type":"rect","filled":false,"color":"black","strokeWidth":1},
"encoding":{"x":{"datum":-71.8,"type":"quantitative","scale":{"domain":[0,290],"nice":false,"zero":false},"axis":null},"x2":{"datum":372.9},
"y":{"datum":256.6,"type":"quantitative","scale":{"domain":[0,221.2],"nice":false,"zero":false},"axis":null},"y2":{"datum":-88.7}}},
{"data":{"values":[
{"item":"Item28","role":"higher","psr":1.0},{"item":"Item29","role":"higher","psr":1.0},
{"item":"Item28","role":"lower","psr":0.547},{"item":"Item29","role":"lower","psr":0.44}]},
"layer":[
{"mark":{"type":"line","strokeWidth":2.5},"encoding":{
"x":{"field":"item","type":"ordinal","scale":{"type":"point","padding":0.25},"axis":{"title":"Field 8 Items"}},
"y":{"field":"psr","type":"quantitative","scale":{"domain":[-0.024,1.024],"nice":false,"zero":false},"axis":{"title":"PSR","values":[0,0.05,0.1,0.15,0.2,0.25,0.3,0.35,0.4,0.45,0.5,0.55,0.6,0.65,0.7,0.75,0.8,0.85,0.9,0.95,1],"labelExpr":"round(datum.value*100) % 20 == 0 ? format(datum.value, '.1f') : ''","tickSize":{"condition":{"test":"round(datum.value*100) % 20 == 0","value":-5},"value":-2.5}}},
"color":{"field":"role","type":"nominal","scale":{"domain":["higher","lower"],"range":["black","#808080"]},"legend":null}}},
{"data":{"values":[{"item":"Item29","label":"C₁₂","psr":1.0,"labelY":0.96},{"item":"Item29","label":"C₁₁","psr":0.44,"labelY":0.44}]},
"layer":[
{"mark":{"type":"rule","color":"#b4b4b4","strokeWidth":1.6,"xOffset":5,"x2Offset":42},"encoding":{"x":{"field":"item","type":"ordinal"},"x2":{"field":"item"},"y":{"field":"psr","type":"quantitative"},"y2":{"field":"labelY"}}},
{"mark":{"type":"rule","color":"#b4b4b4","strokeWidth":1.6,"xOffset":42,"x2Offset":55},"encoding":{"x":{"field":"item","type":"ordinal"},"x2":{"field":"item"},"y":{"field":"labelY","type":"quantitative"}}},
{"mark":{"type":"text","align":"left","baseline":"middle","xOffset":58,"font":"DejaVu Sans","fontSize":17,"fontStyle":"italic","color":"black"},"encoding":{"x":{"field":"item","type":"ordinal"},"y":{"field":"labelY","type":"quantitative"},"text":{"field":"label"}}}
]}
]}
]},
{"width":290.7,"height":221.2,"resolve":{"scale":{"x":"independent","y":"independent"}},
"layer":[
{"data":{"values":[{"cell":"r5c3"}]},"mark":{"type":"rect","filled":false,"color":"black","strokeWidth":1},
"encoding":{"x":{"datum":-73.6,"type":"quantitative","scale":{"domain":[0,290.7],"nice":false,"zero":false},"axis":null},"x2":{"datum":371.1},
"y":{"datum":256.6,"type":"quantitative","scale":{"domain":[0,221.2],"nice":false,"zero":false},"axis":null},"y2":{"datum":-88.7}}},
{"data":{"values":[
{"item":"Item05","role":"higher","psr":0.793},{"item":"Item06","role":"higher","psr":0.704},
{"item":"Item05","role":"lower","psr":0.003},{"item":"Item06","role":"lower","psr":0.0}]},
"layer":[
{"mark":{"type":"line","strokeWidth":2.5},"encoding":{
"x":{"field":"item","type":"ordinal","scale":{"type":"point","padding":0.25},"axis":{"title":"Field 9 Items"}},
"y":{"field":"psr","type":"quantitative","scale":{"domain":[-0.024,1.024],"nice":false,"zero":false},"axis":{"title":"PSR","values":[0,0.05,0.1,0.15,0.2,0.25,0.3,0.35,0.4,0.45,0.5,0.55,0.6,0.65,0.7,0.75,0.8,0.85,0.9,0.95,1],"labelExpr":"round(datum.value*100) % 20 == 0 ? format(datum.value, '.1f') : ''","tickSize":{"condition":{"test":"round(datum.value*100) % 20 == 0","value":-5},"value":-2.5}}},
"color":{"field":"role","type":"nominal","scale":{"domain":["higher","lower"],"range":["black","#808080"]},"legend":null}}},
{"data":{"values":[{"item":"Item06","label":"C₁₂","psr":0.704,"labelY":0.704},{"item":"Item06","label":"C₈","psr":0.0,"labelY":0.042}]},
"layer":[
{"mark":{"type":"rule","color":"#b4b4b4","strokeWidth":1.6,"xOffset":5,"x2Offset":42},"encoding":{"x":{"field":"item","type":"ordinal"},"x2":{"field":"item"},"y":{"field":"psr","type":"quantitative"},"y2":{"field":"labelY"}}},
{"mark":{"type":"rule","color":"#b4b4b4","strokeWidth":1.6,"xOffset":42,"x2Offset":55},"encoding":{"x":{"field":"item","type":"ordinal"},"x2":{"field":"item"},"y":{"field":"labelY","type":"quantitative"}}},
{"mark":{"type":"text","align":"left","baseline":"middle","xOffset":58,"font":"DejaVu Sans","fontSize":17,"fontStyle":"italic","color":"black"},"encoding":{"x":{"field":"item","type":"ordinal"},"y":{"field":"labelY","type":"quantitative"},"text":{"field":"label"}}}
]}
]}
]},
{"width":292.4,"height":218,"resolve":{"scale":{"x":"independent","y":"independent"}},
"layer":[
{"data":{"values":[{"cell":"r6c1"}]},"mark":{"type":"rect","filled":false,"color":"black","strokeWidth":1},
"encoding":{"x":{"datum":-69,"type":"quantitative","scale":{"domain":[0,292.4],"nice":false,"zero":false},"axis":null},"x2":{"datum":375.7},
"y":{"datum":255.3,"type":"quantitative","scale":{"domain":[0,218],"nice":false,"zero":false},"axis":null},"y2":{"datum":-90}}},
{"data":{"values":[
{"item":"Item05","role":"higher","psr":1.0},{"item":"Item06","role":"higher","psr":1.0},
{"item":"Item05","role":"lower","psr":0.001},{"item":"Item06","role":"lower","psr":0.001}]},
"layer":[
{"mark":{"type":"line","strokeWidth":2.5},"encoding":{
"x":{"field":"item","type":"ordinal","scale":{"type":"point","padding":0.25},"axis":{"title":"Field 9 Items"}},
"y":{"field":"psr","type":"quantitative","scale":{"domain":[-0.024,1.024],"nice":false,"zero":false},"axis":{"title":"PSR","values":[0,0.05,0.1,0.15,0.2,0.25,0.3,0.35,0.4,0.45,0.5,0.55,0.6,0.65,0.7,0.75,0.8,0.85,0.9,0.95,1],"labelExpr":"round(datum.value*100) % 20 == 0 ? format(datum.value, '.1f') : ''","tickSize":{"condition":{"test":"round(datum.value*100) % 20 == 0","value":-5},"value":-2.5}}},
"color":{"field":"role","type":"nominal","scale":{"domain":["higher","lower"],"range":["black","#808080"]},"legend":null}}},
{"data":{"values":[{"item":"Item06","label":"C₁₁","psr":1.0,"labelY":0.963},{"item":"Item06","label":"C₉","psr":0.001,"labelY":0.038}]},
"layer":[
{"mark":{"type":"rule","color":"#b4b4b4","strokeWidth":1.6,"xOffset":5,"x2Offset":42},"encoding":{"x":{"field":"item","type":"ordinal"},"x2":{"field":"item"},"y":{"field":"psr","type":"quantitative"},"y2":{"field":"labelY"}}},
{"mark":{"type":"rule","color":"#b4b4b4","strokeWidth":1.6,"xOffset":42,"x2Offset":55},"encoding":{"x":{"field":"item","type":"ordinal"},"x2":{"field":"item"},"y":{"field":"labelY","type":"quantitative"}}},
{"mark":{"type":"text","align":"left","baseline":"middle","xOffset":58,"font":"DejaVu Sans","fontSize":17,"fontStyle":"italic","color":"black"},"encoding":{"x":{"field":"item","type":"ordinal"},"y":{"field":"labelY","type":"quantitative"},"text":{"field":"label"}}}
]}
]}
]},
{"width":290,"height":218,"resolve":{"scale":{"x":"independent","y":"independent"}},
"layer":[
{"data":{"values":[{"cell":"r6c2"}]},"mark":{"type":"rect","filled":false,"color":"black","strokeWidth":1},
"encoding":{"x":{"datum":-71.8,"type":"quantitative","scale":{"domain":[0,290],"nice":false,"zero":false},"axis":null},"x2":{"datum":372.9},
"y":{"datum":255.3,"type":"quantitative","scale":{"domain":[0,218],"nice":false,"zero":false},"axis":null},"y2":{"datum":-90}}},
{"data":{"values":[
{"item":"Item18","role":"higher","psr":1.0},{"item":"Item19","role":"higher","psr":1.0},{"item":"Item20","role":"higher","psr":1.0},{"item":"Item30","role":"higher","psr":1.0},
{"item":"Item18","role":"lower","psr":0.179},{"item":"Item19","role":"lower","psr":0.179},{"item":"Item20","role":"lower","psr":0.2},{"item":"Item30","role":"lower","psr":0.396}]},
"layer":[
{"mark":{"type":"line","strokeWidth":2.5},"encoding":{
"x":{"field":"item","type":"ordinal","scale":{"type":"point","padding":0.25},"axis":{"title":"Field 12 Items"}},
"y":{"field":"psr","type":"quantitative","scale":{"domain":[-0.024,1.024],"nice":false,"zero":false},"axis":{"title":"PSR","values":[0,0.05,0.1,0.15,0.2,0.25,0.3,0.35,0.4,0.45,0.5,0.55,0.6,0.65,0.7,0.75,0.8,0.85,0.9,0.95,1],"labelExpr":"round(datum.value*100) % 20 == 0 ? format(datum.value, '.1f') : ''","tickSize":{"condition":{"test":"round(datum.value*100) % 20 == 0","value":-5},"value":-2.5}}},
"color":{"field":"role","type":"nominal","scale":{"domain":["higher","lower"],"range":["black","#808080"]},"legend":null}}},
{"data":{"values":[{"item":"Item30","label":"C₁₃","psr":1.0,"labelY":0.96},{"item":"Item30","label":"C₁₂","psr":0.396,"labelY":0.396}]},
"layer":[
{"mark":{"type":"rule","color":"#b4b4b4","strokeWidth":1.6,"xOffset":5,"x2Offset":42},"encoding":{"x":{"field":"item","type":"ordinal"},"x2":{"field":"item"},"y":{"field":"psr","type":"quantitative"},"y2":{"field":"labelY"}}},
{"mark":{"type":"rule","color":"#b4b4b4","strokeWidth":1.6,"xOffset":42,"x2Offset":55},"encoding":{"x":{"field":"item","type":"ordinal"},"x2":{"field":"item"},"y":{"field":"labelY","type":"quantitative"}}},
{"mark":{"type":"text","align":"left","baseline":"middle","xOffset":58,"font":"DejaVu Sans","fontSize":17,"fontStyle":"italic","color":"black"},"encoding":{"x":{"field":"item","type":"ordinal"},"y":{"field":"labelY","type":"quantitative"},"text":{"field":"label"}}}
]}
]}
]},
{"width":290,"height":218,"view":{"stroke":null},
"data":{"values":[{"cell":"r6c3"}]},"mark":{"type":"rect","filled":false,"color":"black","strokeWidth":1},
"encoding":{"x":{"datum":-73.6,"type":"quantitative","scale":{"domain":[0,290],"nice":false,"zero":false},"axis":null},"x2":{"datum":371.1},
"y":{"datum":255.3,"type":"quantitative","scale":{"domain":[0,218],"nice":false,"zero":false},"axis":null},"y2":{"datum":-90}}}
],
"config":{
"view":{"stroke":"#666666","strokeWidth":1},
"axis":{"domain":false,"grid":false,"labelFont":"Liberation Sans","labelFontSize":17,"labelColor":"#666666","titleFont":"Liberation Sans","titleFontSize":17,"titleFontWeight":"normal","titleColor":"#666666","tickColor":"#666666","tickWidth":1,"labelOverlap":false},
"axisX":{"labelAngle":0,"tickSize":-4,"labelPadding":10,"titlePadding":13},
"axisY":{"labelPadding":9,"titlePadding":12}
}
}
